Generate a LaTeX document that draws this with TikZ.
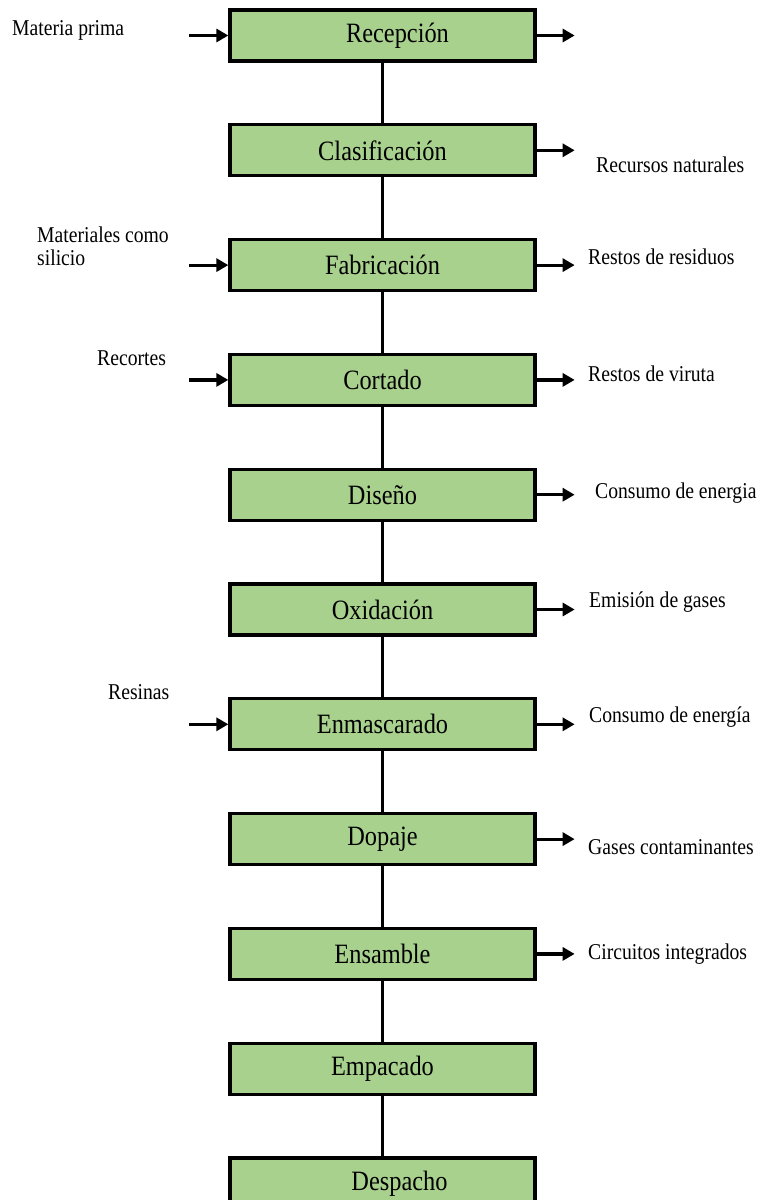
\documentclass[tikz,border=0pt]{standalone}
\usepackage{fontspec}
\setmainfont{Liberation Serif}[FakeStretch=0.87]
\usepackage{tikz}
\usetikzlibrary{arrows.meta}
\tikzstyle{flowChart} = [x = 1pt, y = -1pt]
\definecolor{stageColor}{RGB}{169,209,142}
\tikzstyle{stageStyle} = [draw=black, fill=stageColor, line width=3.3pt, minimum width=305pt, minimum height=51pt, inner sep=0pt, font=\fontsize{28}{30}\selectfont]
\tikzstyle{linkLine} = [color=black, line width=3.3pt]
\tikzstyle{flowArrow} = [color=black, line width=3.2pt, -{Triangle[length=12pt, width=13pt]}]
\tikzstyle{sideText} = [anchor=west, align=left, inner sep=0pt, font=\fontsize{22.6}{23}\selectfont]
\newcommand{\stepY}{114.8}
\newcommand{\stage}[3]{\node [stageStyle] (#1) at (382.5, 35.5 + #2 * \stepY) {#3};}
\newcommand{\inFlow}[1]{\draw [flowArrow] ([xshift=-39pt]#1.west) coordinate (#1In) -- (#1.west);}
\newcommand{\outFlow}[1]{\draw [flowArrow] (#1.east) -- ++(38,0) coordinate (#1Out);}
\newcommand{\sideLabel}[4]{\node [sideText] (#1) at (#2, #3) {#4};}

\begin{document}
\begin{tikzpicture}[flowChart]
  \useasboundingbox (0,0) rectangle (760,1200);
  \clip (0,0) rectangle (760,1200);

  \stage{recepcion}{0}{\hspace*{30pt}Recepción}
  \stage{clasificacion}{1}{Clasificación}
  \stage{fabricacion}{2}{Fabricación}
  \stage{cortado}{3}{Cortado}
  \stage{diseno}{4}{Diseño}
  \stage{oxidacion}{5}{Oxidación}
  \stage{enmascarado}{6}{Enmascarado}
  \stage{dopaje}{7}{Dopaje}
  \stage{ensamble}{8}{Ensamble}
  \stage{empacado}{9}{Empacado}
  \stage{despacho}{10}{\hspace*{34pt}Despacho}

  \foreach \upper/\lower in {recepcion/clasificacion, clasificacion/fabricacion,
      fabricacion/cortado, cortado/diseno, diseno/oxidacion, oxidacion/enmascarado,
      enmascarado/dopaje, dopaje/ensamble, ensamble/empacado, empacado/despacho} {
    \draw [linkLine] (\upper) -- (\lower);
  }

  % entradas
  \foreach \stageName in {recepcion, fabricacion, cortado, enmascarado} {
    \inFlow{\stageName}
  }
  \sideLabel{materiaPrima}{12}{30}{Materia prima}
  \sideLabel{materialesSilicio}{37}{246.5}{Materiales como\\silicio}
  \sideLabel{recortes}{97}{358}{Recortes}
  \sideLabel{resinas}{108}{692}{Resinas}

  % salidas
  \foreach \stageName in {recepcion, clasificacion, fabricacion, cortado, diseno,
      oxidacion, enmascarado, dopaje, ensamble} {
    \outFlow{\stageName}
  }
  \sideLabel{recursosNaturales}{596}{165}{Recursos naturales}
  \sideLabel{restosResiduos}{588}{257}{Restos de residuos}
  \sideLabel{restosViruta}{588}{374}{Restos de viruta}
  \sideLabel{consumoEnergia}{595}{493}{Consumo de energia}
  \sideLabel{emisionGases}{589}{602}{Emisión de gases}
  \sideLabel{consumoEnergiaB}{589}{717}{Consumo de energía}
  \sideLabel{gasesContaminantes}{588}{847}{Gases contaminantes}
  \sideLabel{circuitosIntegrados}{588}{954}{Circuitos integrados}
\end{tikzpicture}
\end{document}
